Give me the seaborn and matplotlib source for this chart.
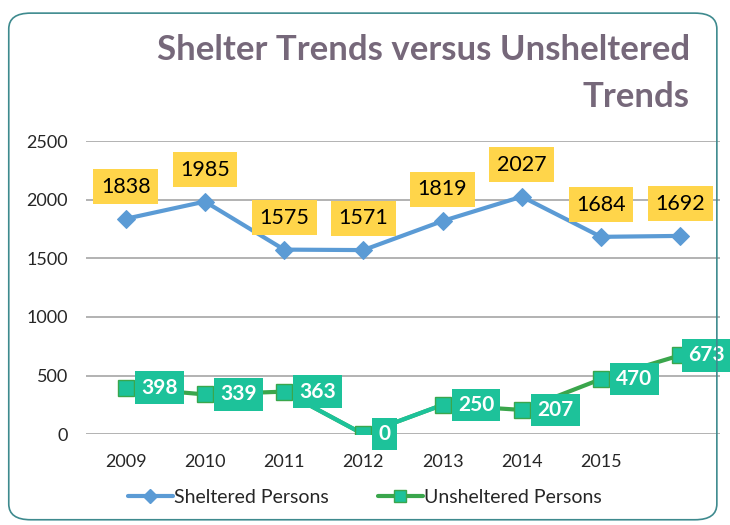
import matplotlib
matplotlib.use("Agg")
import matplotlib.pyplot as plt
from matplotlib.patches import FancyBboxPatch
from matplotlib.lines import Line2D
import pandas as pd
import seaborn as sns

years = ["2009", "2010", "2011", "2012", "2013", "2014", "2015", ""]
sheltered = [1838, 1985, 1575, 1571, 1819, 2027, 1684, 1692]
unsheltered = [398, 339, 363, 0, 250, 207, 470, 673]
y_ticks = [0, 500, 1000, 1500, 2000, 2500]

blue = "#5B9BD5"
green = "#3AA64C"
teal = "#1DC29A"
yellow = "#FFD54A"

sns.set_style("white")
plt.rcParams["font.family"] = ["Lato", "DejaVu Sans"]

df = pd.DataFrame({"idx": range(len(years)), "year": years,
                   "Sheltered Persons": sheltered,
                   "Unsheltered Persons": unsheltered})

fig = plt.figure(figsize=(7.3, 5.25), dpi=100)
ax = fig.add_axes([0.118, 0.173, 0.868, 0.558])

sns.lineplot(data=df, x="idx", y="Sheltered Persons", ax=ax, color=blue,
             linewidth=3, marker="D", markersize=9, markeredgecolor=blue,
             markerfacecolor=blue, zorder=3)
sns.lineplot(data=df, x="idx", y="Unsheltered Persons", ax=ax, color=green,
             linewidth=3, zorder=3)
# segments around 2012 drawn in teal, as in the source chart
sub = df.iloc[2:5]
sns.lineplot(data=sub, x="idx", y="Unsheltered Persons", ax=ax, color=teal,
             linewidth=3, zorder=3)
ax.plot(df["idx"], df["Unsheltered Persons"], linestyle="none", marker="s",
        markersize=11, markerfacecolor=teal, markeredgecolor=green,
        markeredgewidth=1, zorder=4)

for i, v in enumerate(sheltered):
    ax.annotate(str(v), (i, v), xytext=(0, 23), textcoords="offset points",
                ha="center", va="center", fontsize=15.5, color="black",
                bbox=dict(boxstyle="square,pad=0.35", fc=yellow, ec="none"),
                zorder=5)
for i, v in enumerate(unsheltered):
    # last label is pushed left so it stays inside the chart
    dx = 11 if i < len(unsheltered) - 1 else 6
    ax.annotate(str(v), (i, v), xytext=(dx, 0), textcoords="offset points",
                ha="left", va="center", fontsize=15, color="white",
                fontweight="bold",
                bbox=dict(boxstyle="square,pad=0.3", fc=teal, ec="none"),
                zorder=5)

ax.set_xlim(-0.5, len(years) - 0.5)
ax.set_ylim(0, 2500)
ax.set_yticks(y_ticks)
ax.set_yticklabels([str(t) for t in y_ticks], fontsize=13)
ax.set_xticks(range(len(years)))
ax.set_xticklabels(years, fontsize=13)
ax.tick_params(axis="x", pad=14, length=0)
ax.tick_params(axis="y", pad=13, length=0)
ax.grid(axis="y", color="#A6A6A6", linewidth=1.2)
ax.grid(axis="x", visible=False)
for s in ax.spines.values():
    s.set_visible(False)
ax.set_xlabel("")
ax.set_ylabel("")

fig.text(0.945, 0.905, "Shelter Trends versus Unsheltered", ha="right",
         va="center", fontsize=25, fontweight="bold", color="#76687A")
fig.text(0.945, 0.815, "Trends", ha="right", va="center", fontsize=25,
         fontweight="bold", color="#76687A")

handles = [
    Line2D([], [], color=blue, linewidth=3, marker="D", markersize=7,
           markerfacecolor=blue, markeredgecolor=blue),
    Line2D([], [], color=green, linewidth=3, marker="s", markersize=9,
           markerfacecolor=teal, markeredgecolor=green),
]
fig.legend(handles, ["Sheltered Persons", "Unsheltered Persons"],
           loc="center", bbox_to_anchor=(0.5, 0.053), ncol=2, frameon=False,
           fontsize=14, handlelength=2.3, handletextpad=0.1, columnspacing=2.5)

border = FancyBboxPatch((0.012, 0.01), 0.97, 0.965,
                        boxstyle="round,pad=0,rounding_size=0.03",
                        transform=fig.transFigure, fill=False,
                        ec="#3E8A8E", lw=1.2)
fig.patches.append(border)

fig.savefig("out.png", dpi=100)
